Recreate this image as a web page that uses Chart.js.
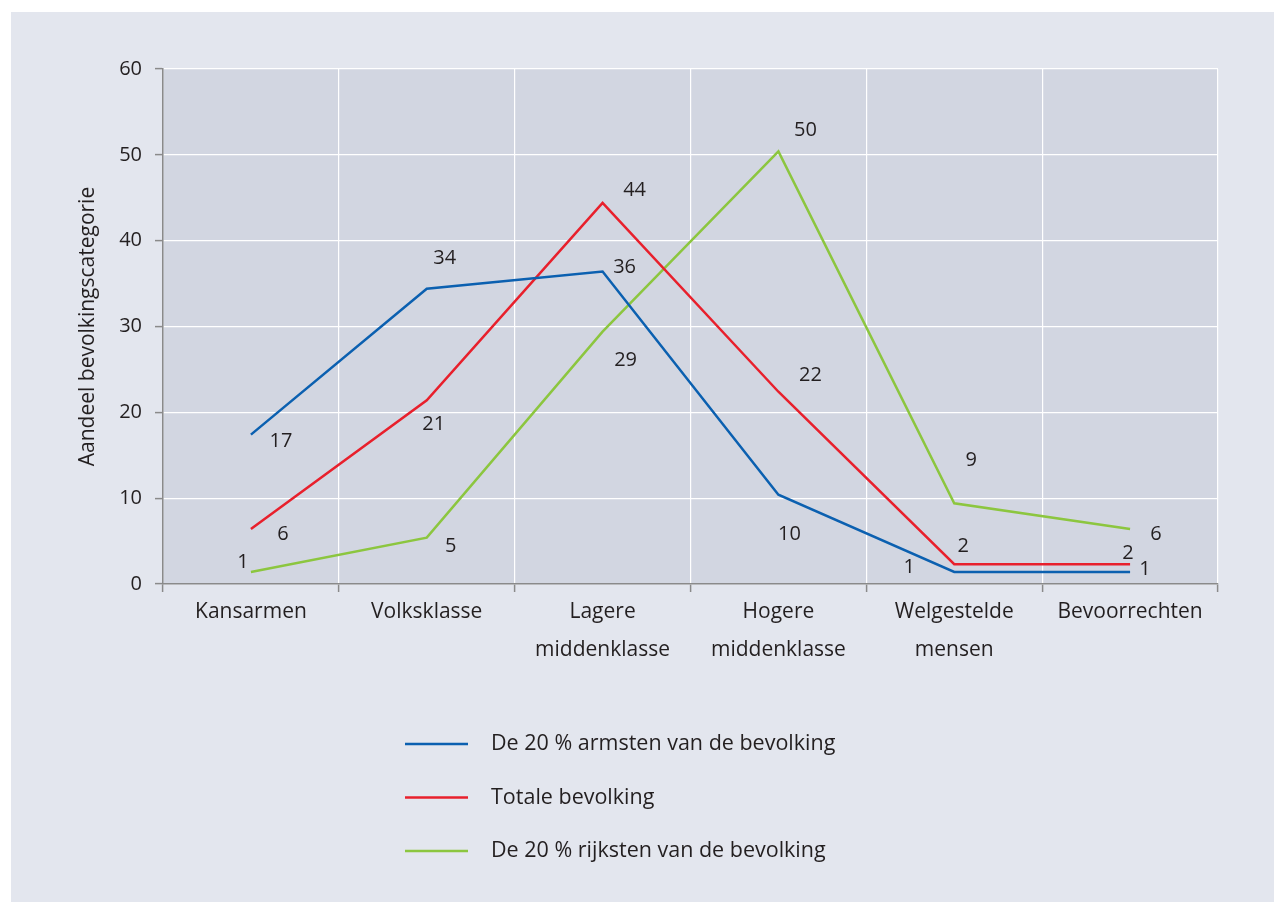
<!DOCTYPE html>
<html>
<head>
<meta charset="utf-8">
<script src="https://cdn.jsdelivr.net/npm/chart.js@4.4.1/dist/chart.umd.min.js"></script>
<style>
  html, body { margin: 0; padding: 0; background: #ffffff; }
  #wrap { width: 1274px; height: 902px; position: relative; }
</style>
</head>
<body>
<div id="wrap"><canvas id="c"></canvas></div>
<script>
// ---- data ----
const categories = [
  "Kansarmen",
  "Volksklasse",
  ["Lagere", "middenklasse"],
  ["Hogere", "middenklasse"],
  ["Welgestelde", "mensen"],
  "Bevoorrechten"
];
const seriesNames = [
  "De 20 % armsten van de bevolking",
  "Totale bevolking",
  "De 20 % rijksten van de bevolking"
];
const armsten = [17.4, 34.4, 36.4, 10.4, 1.4, 1.4];
const totaal  = [6.4, 21.4, 44.4, 22.4, 2.3, 2.3];
const rijksten = [1.4, 5.4, 29.4, 50.4, 9.4, 6.4];
const yTicks = [0, 10, 20, 30, 40, 50, 60];

// ---- styles ----
const FONT = "'Open Sans', 'DejaVu Sans', sans-serif";
const TEXT = "#231f20";
const colors = ["#0b60b0", "#e8202c", "#8cc63f"];
// label offsets (px) relative to each point, per series
const labelOffsets = [
  [[30, 7], [18, -30], [22, -4], [11, 40], [-45, -5], [15, -3]],
  [[32, 5], [7, 24], [32, -13], [32, -16], [9, -18], [-2, -11]],
  [[-8, -10], [24, 9], [23, 29], [27, -21], [17, -43], [26, 5]]
];

const bgPlugin = {
  id: 'bg',
  beforeDraw(chart) {
    const {ctx, chartArea: a} = chart;
    ctx.save();
    ctx.fillStyle = '#e3e6ee';
    ctx.fillRect(11, 12, chart.width - 11, chart.height - 12);
    ctx.fillStyle = '#d2d6e1';
    ctx.fillRect(a.left, a.top, a.right - a.left, a.bottom - a.top);
    ctx.restore();
  }
};

const labelPlugin = {
  id: 'pointLabels',
  afterDatasetsDraw(chart) {
    const {ctx} = chart;
    ctx.save();
    ctx.font = "20px " + FONT;
    ctx.fillStyle = TEXT;
    ctx.textAlign = 'center';
    ctx.textBaseline = 'middle';
    chart.data.datasets.forEach((ds, di) => {
      const meta = chart.getDatasetMeta(di);
      meta.data.forEach((pt, i) => {
        const off = labelOffsets[di][i];
        ctx.fillText(String(Math.round(ds.data[i])), pt.x + off[0], pt.y + off[1]);
      });
    });
    ctx.restore();
  }
};

const legendPlugin = {
  id: 'vlegend',
  afterDraw(chart) {
    const {ctx} = chart;
    ctx.save();
    ctx.font = "21.5px " + FONT;
    ctx.textAlign = 'left';
    ctx.textBaseline = 'middle';
    chart.data.datasets.forEach((ds, di) => {
      const y = 744 + di * 53.5;
      ctx.strokeStyle = ds.borderColor;
      ctx.lineWidth = 2.5;
      ctx.beginPath();
      ctx.moveTo(405, y);
      ctx.lineTo(468, y);
      ctx.stroke();
      ctx.fillStyle = TEXT;
      ctx.fillText(ds.label, 491, y);
    });
    ctx.restore();
  }
};

const seriesData = [armsten, totaal, rijksten];
const datasets = seriesData.map((d, i) => ({
  label: seriesNames[i],
  data: d,
  borderColor: colors[i],
  backgroundColor: colors[i],
  borderWidth: 2.5,
  pointRadius: 0,
  tension: 0,
  fill: false
}));

new Chart(document.getElementById('c'), {
  type: 'line',
  data: { labels: categories, datasets },
  plugins: [bgPlugin, labelPlugin, legendPlugin],
  options: {
    responsive: true,
    maintainAspectRatio: false,
    animation: false,
    layout: { padding: { top: 69, right: 56, left: 0, bottom: 0 } },
    plugins: { legend: { display: false }, title: { display: false }, tooltip: { enabled: false } },
    scales: {
      x: {
        offset: true,
        grid: { offset: true, color: '#ffffff', lineWidth: 1.2, tickColor: '#8a8a8a', tickLength: 8, tickWidth: 1.5 },
        border: { color: '#8a8a8a', width: 1.5 },
        ticks: { color: TEXT, font: { family: FONT, size: 21, lineHeight: 1.8 }, padding: 1, maxRotation: 0, autoSkip: false },
        afterFit(scale) { scale.height = 902 - 584; }
      },
      y: {
        min: 0, max: 60,
        afterBuildTicks(scale) { scale.ticks = yTicks.map(v => ({ value: v })); },
        grid: { color: '#ffffff', lineWidth: 1.2, tickColor: '#8a8a8a', tickLength: 8, tickWidth: 1.5 },
        border: { color: '#8a8a8a', width: 1.5 },
        ticks: { color: TEXT, font: { family: FONT, size: 20 }, padding: 13 },
        title: {
          display: true,
          text: 'Aandeel bevolkingscategorie',
          color: TEXT,
          font: { family: FONT, size: 21, lineHeight: 1.2 },
          padding: { top: 75, bottom: 0 }
        },
        afterFit(scale) { scale.width = 163; }
      }
    }
  }
});
</script>
</body>
</html>
